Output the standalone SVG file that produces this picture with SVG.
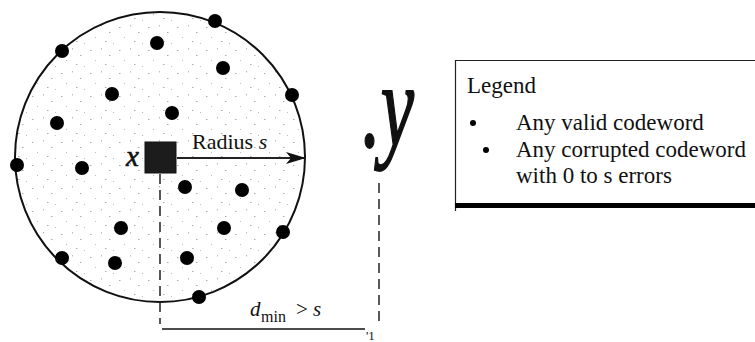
<svg xmlns="http://www.w3.org/2000/svg" width="755" height="342" viewBox="0 0 755 342">
<style>
text{font-family:"Liberation Serif","Times New Roman",serif;fill:#111}
.it{font-style:italic}
.cw{fill:#000}
.dash{stroke:#222;stroke-width:1.5;stroke-dasharray:10 6;fill:none}
.lg{font-size:23px}
</style>
<defs>
<pattern id="speck" width="29" height="23" patternUnits="userSpaceOnUse">
<rect x="3" y="4" width="1.5" height="1" fill="#aaa"/>
<rect x="14" y="2" width="1" height="1.5" fill="#bbb"/>
<rect x="22" y="9" width="1.5" height="1" fill="#aaa"/>
<rect x="8" y="14" width="1" height="1" fill="#bbb"/>
<rect x="18" y="18" width="1.5" height="1" fill="#aaa"/>
<rect x="26" y="20" width="1" height="1" fill="#bbb"/>
</pattern>
<marker id="ah" viewBox="0 0 20 12" refX="19" refY="6" markerWidth="20" markerHeight="12" markerUnits="userSpaceOnUse" orient="auto">
<path d="M0,0 L20,6 L0,12 L5,6 Z" fill="#111"/>
</marker>
</defs>
<rect width="755" height="342" fill="#fff"/>
<g id="sphere">
<circle cx="160" cy="157" r="145" fill="url(#speck)" stroke="none"/>
<circle cx="160" cy="157" r="145" fill="none" stroke="#111" stroke-width="2"/>
</g>
<g id="connectors">
<line x1="177" y1="158" x2="305" y2="158" stroke="#222" stroke-width="2.2" marker-end="url(#ah)"/>
<line x1="160" y1="174" x2="160" y2="324" class="dash"/>
<line x1="379" y1="183" x2="379" y2="325" class="dash"/>
<line x1="162" y1="329" x2="365" y2="329" stroke="#111" stroke-width="1.5"/>
</g>
<g id="x-node">
<rect x="145" y="142" width="31" height="31" fill="#1c1c1c" stroke="#111" stroke-width="1"/>
<text x="126" y="166" class="it" font-size="29" stroke="#111" stroke-width="0.6">x</text>
</g>
<g id="radius-label">
<text x="192" y="149" font-size="22">Radius <tspan class="it">s</tspan></text>
</g>
<g id="codewords">
<circle class="cw" cx="215" cy="21" r="7"/>
<circle class="cw" cx="62" cy="51" r="7"/>
<circle class="cw" cx="157" cy="43" r="7"/>
<circle class="cw" cx="223" cy="68" r="7"/>
<circle class="cw" cx="292" cy="95" r="7"/>
<circle class="cw" cx="112" cy="94" r="7"/>
<circle class="cw" cx="172" cy="113" r="7"/>
<circle class="cw" cx="57" cy="123" r="7"/>
<circle class="cw" cx="82" cy="168" r="7"/>
<circle class="cw" cx="17" cy="165" r="7"/>
<circle class="cw" cx="185" cy="187" r="7"/>
<circle class="cw" cx="242" cy="190" r="7"/>
<circle class="cw" cx="121" cy="228" r="7"/>
<circle class="cw" cx="224" cy="228" r="7"/>
<circle class="cw" cx="283" cy="232" r="7"/>
<circle class="cw" cx="62" cy="258" r="7"/>
<circle class="cw" cx="115" cy="263" r="7"/>
<circle class="cw" cx="187" cy="258" r="7"/>
<circle class="cw" cx="199" cy="297" r="7"/>
</g>
<g id="y-node">
<text x="362" y="146" class="it" font-size="118" textLength="52" lengthAdjust="spacingAndGlyphs" stroke="#111" stroke-width="1.8">.y</text>
</g>
<g id="dmin-label">
<text x="250" y="316" class="it" font-size="21">d</text>
<text x="261" y="322" font-size="16">min</text>
<text x="296" y="316" font-size="21">&gt;</text>
<text x="313" y="316" class="it" font-size="21">s</text>
<text x="366" y="340" font-size="13">'1</text>
</g>
<g id="legend">
<line x1="455" y1="60.5" x2="755" y2="60.5" stroke="#222" stroke-width="1"/>
<line x1="455.5" y1="60" x2="455.5" y2="211" stroke="#222" stroke-width="1.2"/>
<rect x="455" y="203" width="300" height="5" fill="#000"/>
<text x="467" y="93" class="lg">Legend</text>
<circle cx="473" cy="123" r="3" fill="#000"/>
<text x="516" y="130" class="lg">Any valid codeword</text>
<circle cx="486" cy="150" r="3" fill="#000"/>
<text x="516" y="157" class="lg">Any corrupted codeword</text>
<text x="516" y="183" class="lg">with 0 to s errors</text>
</g>
</svg>
